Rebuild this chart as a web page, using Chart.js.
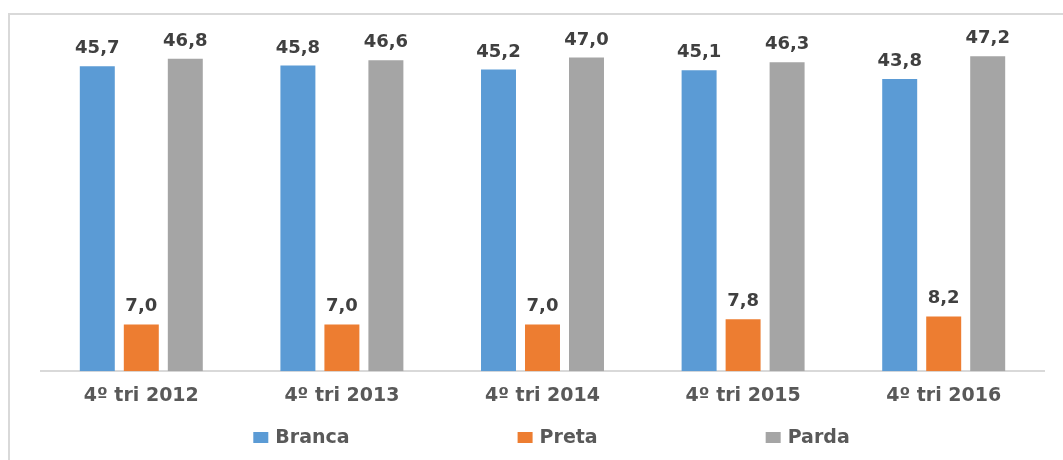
<!DOCTYPE html>
<html>
<head>
<meta charset="utf-8">
<script src="https://cdn.jsdelivr.net/npm/chart.js@4/dist/chart.umd.min.js"></script>
<style>
  html, body { margin: 0; padding: 0; background: #ffffff; overflow: hidden; width: 1063px; height: 460px; }
  #frame { position: absolute; left: 8px; top: 13px; width: 2000px; height: 1000px;
           border-left: 2px solid #d9d9d9; border-top: 2px solid #d9d9d9; }
  #c { position: absolute; left: 0; top: 0; }
</style>
</head>
<body>
<div id="frame"></div>
<canvas id="c" width="1063" height="460"></canvas>
<script>
const categories = ['4º tri 2012', '4º tri 2013', '4º tri 2014', '4º tri 2015', '4º tri 2016'];
const branca = [45.7, 45.8, 45.2, 45.1, 43.8];
const preta = [7.0, 7.0, 7.0, 7.8, 8.2];
const parda = [46.8, 46.6, 47.0, 46.3, 47.2];
const seriesNames = ['Branca', 'Preta', 'Parda'];
const seriesColors = ['#5B9BD5', '#ED7D31', '#A5A5A5'];

const FONT = '"DejaVu Sans", Verdana, sans-serif';

const dataLabels = {
  id: 'dataLabels',
  afterDatasetsDraw(chart) {
    const ctx = chart.ctx;
    ctx.save();
    ctx.font = 'bold 18px ' + FONT;
    ctx.fillStyle = '#404040';
    ctx.textAlign = 'center';
    ctx.textBaseline = 'alphabetic';
    chart.data.datasets.forEach((ds, di) => {
      const meta = chart.getDatasetMeta(di);
      meta.data.forEach((bar, i) => {
        const txt = ds.data[i].toFixed(1).replace('.', ',');
        ctx.fillText(txt, bar.x, bar.y - 13);
      });
    });
    ctx.restore();
  }
};

const customLegend = {
  id: 'customLegend',
  afterDraw(chart) {
    const ctx = chart.ctx;
    ctx.save();
    ctx.font = 'bold 19px ' + FONT;
    ctx.textBaseline = 'middle';
    ctx.textAlign = 'left';
    const boxW = 15, boxH = 11, gapText = 7, gapItem = 168;
    const items = chart.data.datasets.map(ds => ({
      label: ds.label, color: ds.backgroundColor, w: ctx.measureText(ds.label).width
    }));
    let total = 0;
    items.forEach((it, i) => { total += boxW + gapText + it.w + (i < items.length - 1 ? gapItem : 0); });
    const center = (chart.chartArea.left + chart.chartArea.right) / 2 + 9;
    let x = center - total / 2;
    const y = 437.5;
    items.forEach(it => {
      ctx.fillStyle = it.color;
      ctx.fillRect(x, y - boxH / 2, boxW, boxH);
      ctx.fillStyle = '#595959';
      ctx.fillText(it.label, x + boxW + gapText, y + 1);
      x += boxW + gapText + it.w + gapItem;
    });
    ctx.restore();
  }
};

const datasets = [branca, preta, parda].map((vals, i) => ({
  label: seriesNames[i],
  data: vals,
  backgroundColor: seriesColors[i],
  borderWidth: 0,
  barPercentage: 0.795,
  categoryPercentage: 0.658
}));

new Chart(document.getElementById('c'), {
  type: 'bar',
  data: { labels: categories, datasets: datasets },
  options: {
    responsive: false,
    animation: false,
    devicePixelRatio: 1,
    layout: { padding: { left: 41, right: 19, top: 37.5, bottom: 40 } },
    plugins: {
      legend: { display: false },
      tooltip: { enabled: false }
    },
    scales: {
      x: {
        grid: { display: false, drawTicks: false },
        border: { display: true, color: '#d9d9d9', width: 2 },
        ticks: {
          color: '#595959',
          padding: 13,
          maxRotation: 0,
          font: { family: FONT, size: 19, weight: 'bold' }
        }
      },
      y: {
        display: false,
        min: 0,
        max: 50
      }
    }
  },
  plugins: [dataLabels, customLegend]
});
</script>
</body>
</html>
